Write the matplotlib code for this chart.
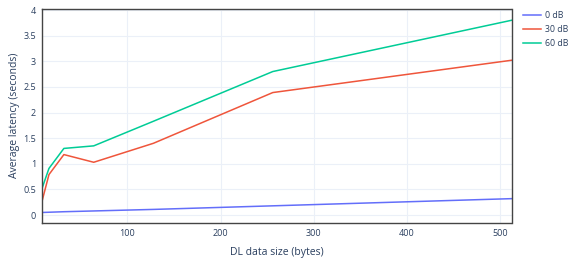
import matplotlib
matplotlib.use("Agg")
import matplotlib.pyplot as plt

plt.rcParams['font.family'] = ['Open Sans', 'DejaVu Sans']

x_vals = [8, 16, 32, 64, 128, 256, 512]
lat_0db = [0.05, 0.055, 0.065, 0.08, 0.11, 0.18, 0.32]
lat_30db = [0.23, 0.79, 1.18, 1.03, 1.40, 2.39, 3.02]
lat_60db = [0.49, 0.91, 1.30, 1.35, 1.83, 2.80, 3.80]
series_names = ["0 dB", "30 dB", "60 dB"]
colors = ["#636efa", "#EF553B", "#00cc96"]
x_ticks = [100, 200, 300, 400, 500]
y_ticks = [0, 0.5, 1, 1.5, 2, 2.5, 3, 3.5, 4]
y_ticklabels = ["0", "0.5", "1", "1.5", "2", "2.5", "3", "3.5", "4"]

fig = plt.figure(figsize=(5.68, 2.62), dpi=100)
W, H = 568, 262
left, right, top, bottom = 41.5, 511.5, 8.5, 223
ax = fig.add_axes([left / W, 1 - bottom / H, (right - left) / W, (bottom - top) / H])

for vals, name, c in zip([lat_0db, lat_30db, lat_60db], series_names, colors):
    ax.plot(x_vals, vals, color=c, lw=1.1, label=name, solid_joinstyle='round')

ax.set_xlim(8, 512)
ax.set_ylim(-0.155, 4.03)
ax.set_xticks(x_ticks)
ax.set_yticks(y_ticks)
ax.set_yticklabels(y_ticklabels)
ax.grid(True, color="#ebf0f8", lw=0.8)
ax.set_axisbelow(True)
for s in ax.spines.values():
    s.set_color("#444444")
    s.set_linewidth(1.0)
ax.tick_params(axis='both', length=0, labelsize=6.5, colors="#2a3f5f", pad=4)
ax.set_xlabel("DL data size (bytes)", fontsize=7.5, color="#2a3f5f", labelpad=7)
ax.set_ylabel("Average latency (seconds)", fontsize=7.5, color="#2a3f5f", labelpad=2)

ax.legend(loc='upper left', bbox_to_anchor=(523 / W, 1 - 11 / H), bbox_transform=fig.transFigure,
          frameon=False, fontsize=6.3, handlelength=2.1, handletextpad=0.45,
          labelspacing=0.55, borderaxespad=0, borderpad=0,
          labelcolor="#2a3f5f")

fig.savefig("out.png", dpi=100, facecolor="white")
